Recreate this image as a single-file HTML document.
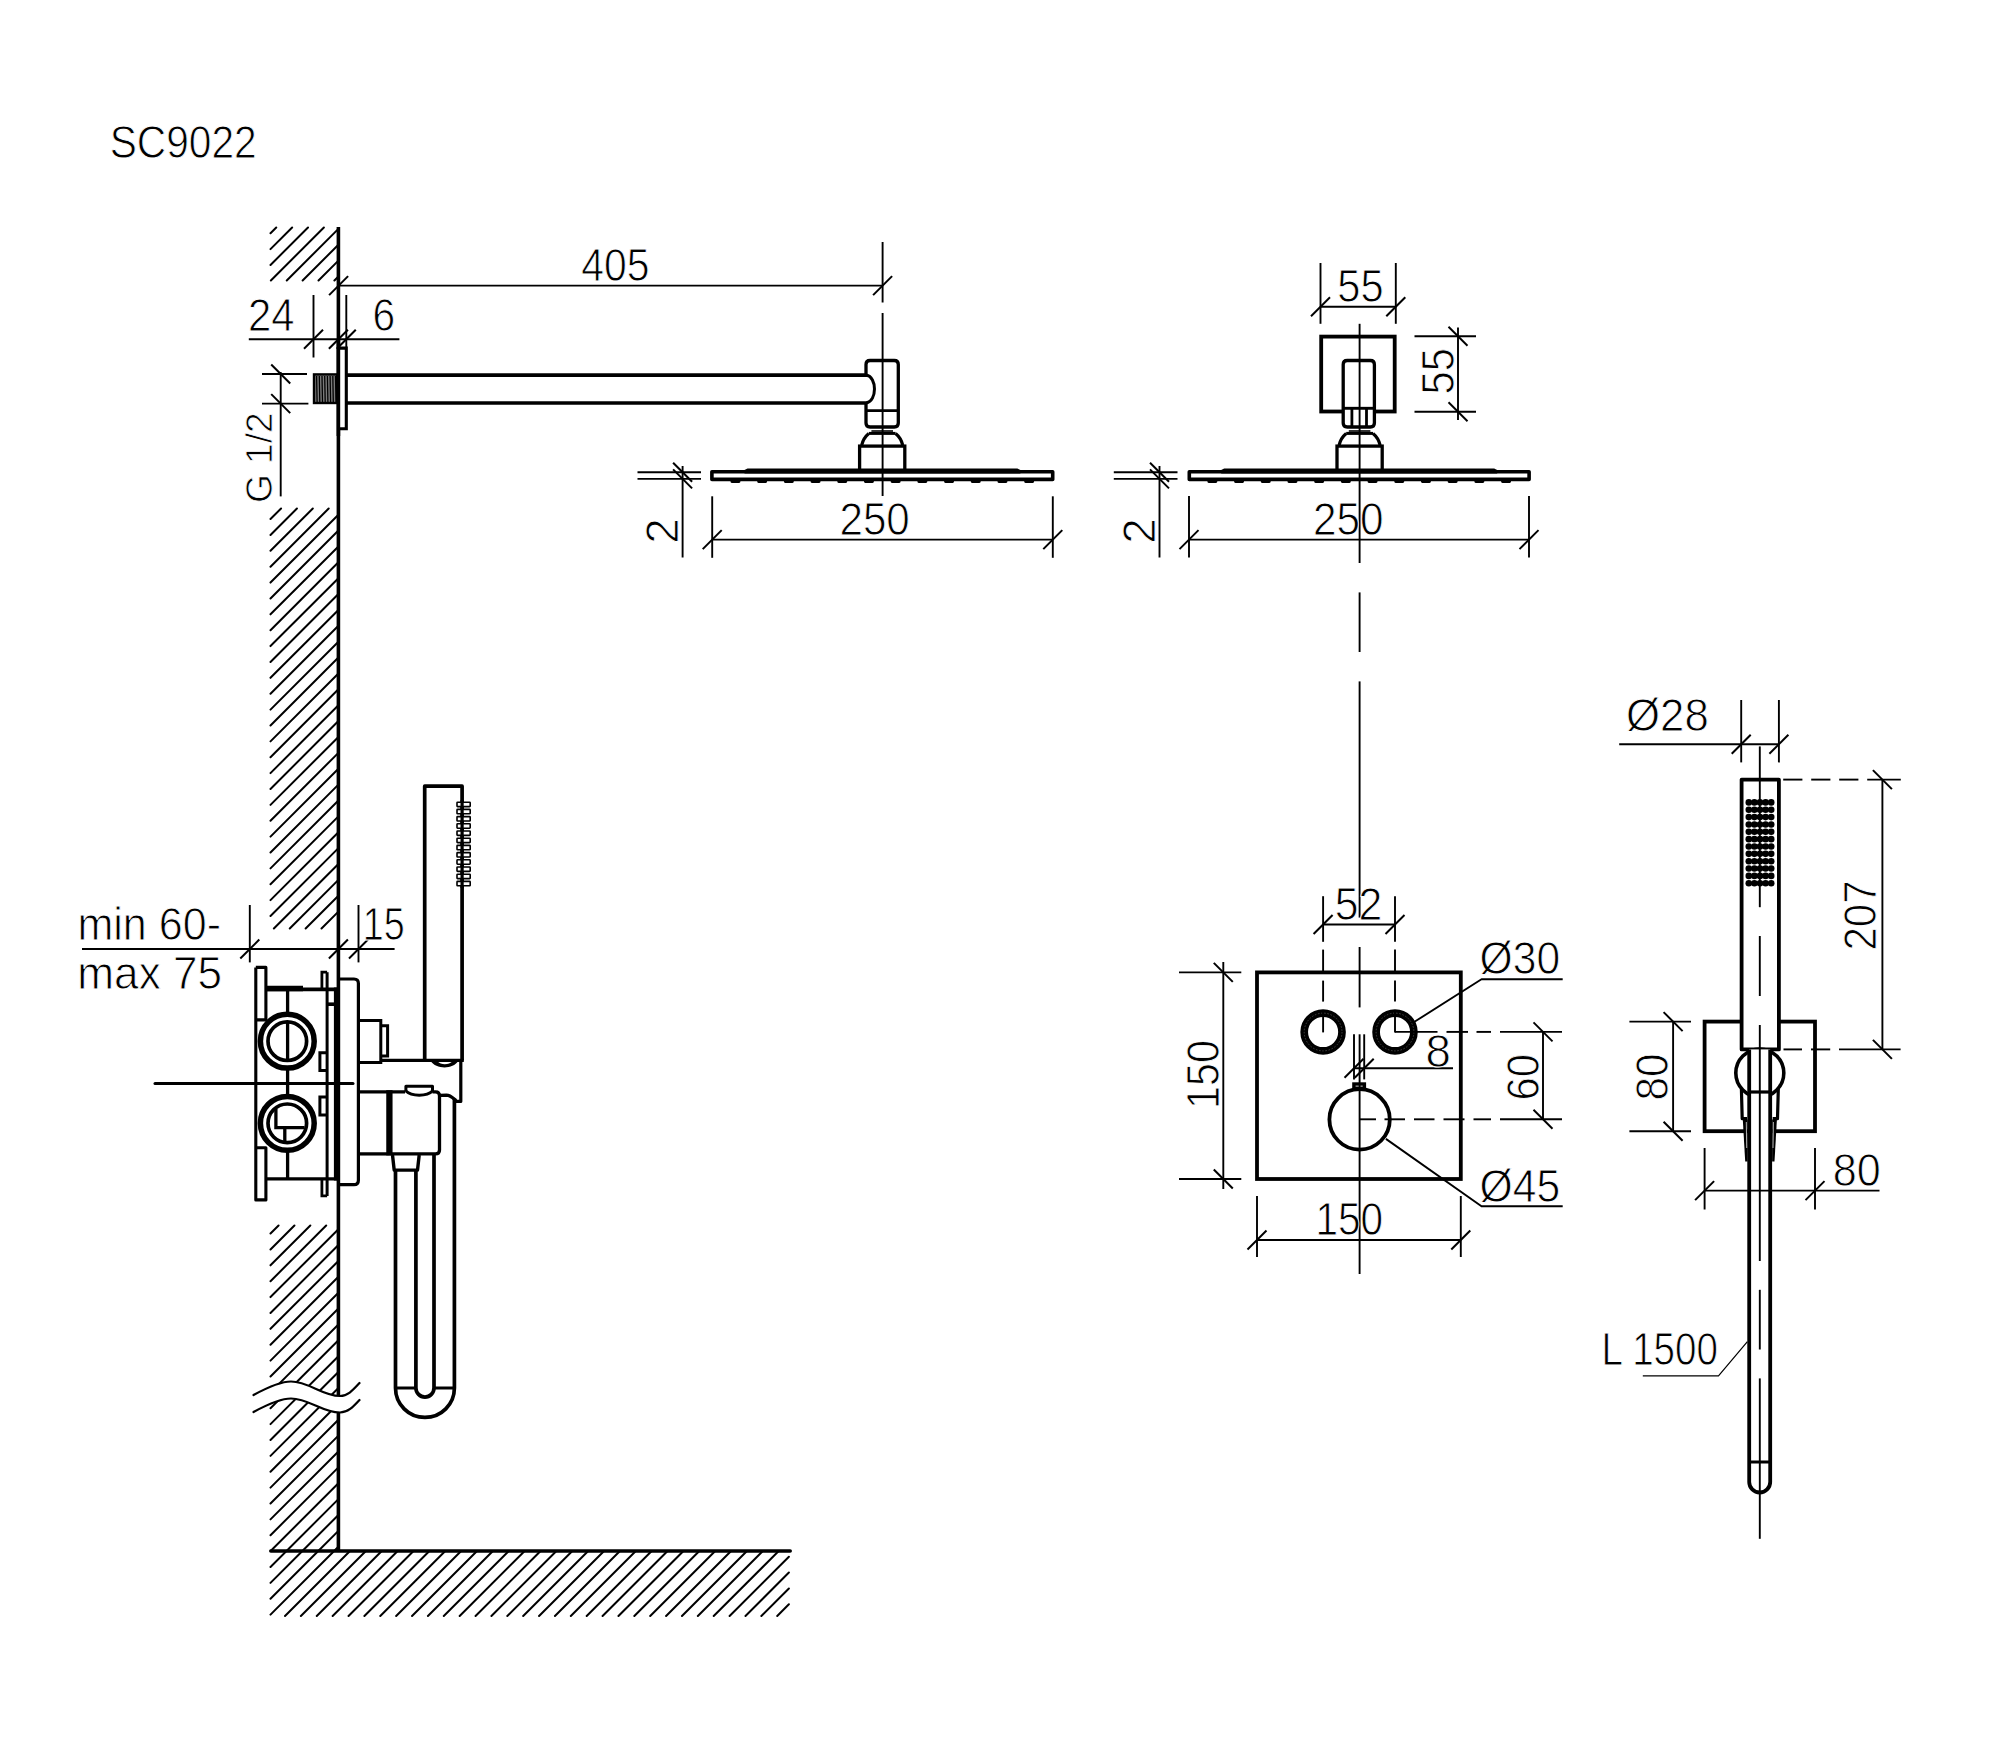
<!DOCTYPE html>
<html lang="en">
<head>
<meta charset="utf-8">
<title>SC9022 technical drawing</title>
<style>
html,body{margin:0;padding:0;background:#fff;}
body{width:2000px;height:1757px;overflow:hidden;}
svg{display:block;}
svg text{font-family:"Liberation Sans",sans-serif;fill:#000;stroke:#fff;stroke-width:0.9px;}
</style>
</head>
<body>
<svg width="2000" height="1757" viewBox="0 0 2000 1757" fill="none" stroke="#000">
<g id="hatching">
<path d="M270.5,233.25L276.25,227.5M270.5,249.13L292.13,227.5M270.5,265.01L308.01,227.5M270.88,280.5L323.88,227.5M286.76,280.5L337.9,229.36M302.64,280.5L337.9,245.24M318.52,280.5L337.9,261.12M334.4,280.5L337.9,277" stroke-width="2" stroke-linecap="round"/>
<path d="M270.5,519.05L281.05,508.5M270.5,534.93L296.93,508.5M270.5,550.81L312.81,508.5M270.5,566.69L328.69,508.5M270.5,582.57L337.9,515.17M270.5,598.44L337.9,531.04M270.5,614.32L337.9,546.92M270.5,630.2L337.9,562.8M270.5,646.08L337.9,578.68M270.5,661.96L337.9,594.56M270.5,677.83L337.9,610.43M270.5,693.71L337.9,626.31M270.5,709.59L337.9,642.19M270.5,725.47L337.9,658.07M270.5,741.35L337.9,673.95M270.5,757.22L337.9,689.82M270.5,773.1L337.9,705.7M270.5,788.98L337.9,721.58M270.5,804.86L337.9,737.46M270.5,820.74L337.9,753.34M270.5,836.61L337.9,769.21M270.5,852.49L337.9,785.09M270.5,868.37L337.9,800.97M270.5,884.25L337.9,816.85M270.5,900.13L337.9,832.73M270.5,916L337.9,848.6M273.88,928.5L337.9,864.48M289.76,928.5L337.9,880.36M305.64,928.5L337.9,896.24M321.52,928.5L337.9,912.12" stroke-width="2" stroke-linecap="round"/>
<path d="M270.5,1233.56L278.56,1225.5M270.5,1249.44L294.44,1225.5M270.5,1265.32L310.32,1225.5M270.5,1281.2L326.2,1225.5M270.5,1297.08L337.9,1229.68M270.5,1312.95L337.9,1245.55M270.5,1328.83L337.9,1261.43M270.5,1344.71L337.9,1277.31M270.5,1360.59L337.9,1293.19M270.5,1376.47L337.9,1309.07M270.5,1392.34L337.9,1324.94M270.5,1408.22L337.9,1340.82M270.5,1424.1L337.9,1356.7M270.5,1439.98L337.9,1372.58M270.5,1455.86L337.9,1388.46M270.5,1471.73L337.9,1404.33M270.5,1487.61L337.9,1420.21M270.5,1503.49L337.9,1436.09M270.5,1519.37L337.9,1451.97M270.5,1535.25L337.9,1467.85M271.12,1550.5L337.9,1483.72M287,1550.5L337.9,1499.6M302.88,1550.5L337.9,1515.48M318.76,1550.5L337.9,1531.36M334.64,1550.5L337.9,1547.24" stroke-width="2" stroke-linecap="round"/>
<path d="M270.5,1567L286,1551.5M270.5,1582.88L301.88,1551.5M270.5,1598.76L317.76,1551.5M270.5,1614.64L333.64,1551.5M285.01,1616L349.51,1551.5M300.89,1616L365.39,1551.5M316.77,1616L381.27,1551.5M332.65,1616L397.15,1551.5M348.53,1616L413.03,1551.5M364.4,1616L428.9,1551.5M380.28,1616L444.78,1551.5M396.16,1616L460.66,1551.5M412.04,1616L476.54,1551.5M427.92,1616L492.42,1551.5M443.79,1616L508.29,1551.5M459.67,1616L524.17,1551.5M475.55,1616L540.05,1551.5M491.43,1616L555.93,1551.5M507.31,1616L571.81,1551.5M523.18,1616L587.68,1551.5M539.06,1616L603.56,1551.5M554.94,1616L619.44,1551.5M570.82,1616L635.32,1551.5M586.7,1616L651.2,1551.5M602.57,1616L667.07,1551.5M618.45,1616L682.95,1551.5M634.33,1616L698.83,1551.5M650.21,1616L714.71,1551.5M666.09,1616L730.59,1551.5M681.96,1616L746.46,1551.5M697.84,1616L762.34,1551.5M713.72,1616L778.22,1551.5M729.6,1616L788.9,1556.7M745.48,1616L788.9,1572.58M761.35,1616L788.9,1588.45M777.23,1616L788.9,1604.33" stroke-width="2" stroke-linecap="round"/>
</g>
<g id="wall">
<line x1="338.4" y1="227" x2="338.4" y2="1551" stroke-width="3.6"/>
<line x1="270.8" y1="1551" x2="790.2" y2="1551" stroke-width="3.6" stroke-linecap="round"/>
<path d="M253.5,1395 C272,1385 282,1381.5 291,1381.5 C309,1381.5 322,1396 340,1396 C348,1396 353,1390 359.5,1383 L359.5,1400 C353,1407 348,1412.5 340,1412.5 C322,1412.5 309,1398.5 291,1398.5 C282,1398.5 272,1402 253.5,1412 Z" fill="#fff" stroke="none"/>
<path d="M253.5,1395 C272,1385 282,1381.5 291,1381.5 C309,1381.5 322,1396 340,1396 C348,1396 353,1390 359.5,1383" stroke-width="2.2" stroke-linecap="round"/>
<path d="M253.5,1412 C272,1402 282,1398.5 291,1398.5 C309,1398.5 322,1412.5 340,1412.5 C348,1412.5 353,1407 359.5,1400" stroke-width="2.2" stroke-linecap="round"/>
</g>
<g id="arm-side">
<rect x="314" y="374.4" width="23" height="28.6" fill="#7a7a7a" stroke="#000" stroke-width="2.4"/>
<path d="M316.6,376L317.1,402M319.3,376L319.8,402M322,376L322.5,402M324.7,376L325.2,402M327.4,376L327.9,402M330.1,376L330.6,402M332.8,376L333.3,402M335.5,376L336,402" stroke-width="1.3"/>
<path d="M338.4,348.1 L346.3,348.1 L346.3,428.7 L338.4,428.7" stroke-width="3.1" fill="#fff"/>
<line x1="347" y1="375.1" x2="867" y2="375.1" stroke-width="3.6"/>
<line x1="347" y1="403" x2="867" y2="403" stroke-width="3.6"/>
<line x1="338.4" y1="340" x2="338.4" y2="436" stroke-width="3.6"/>
<path d="M866,375.1 L866,364.5 Q866,360.5 870,360.5 L894.3,360.5 Q898.3,360.5 898.3,364.5 L898.3,423 Q898.3,427 894.3,427 L870,427 Q866,427 866,423 L866,403" stroke-width="3.3"/>
<path d="M866.3,375.1 C877.2,377 877.2,401.1 866.3,403" stroke-width="3"/>
<line x1="866" y1="410.6" x2="898.3" y2="410.6" stroke-width="2.9"/>
<line x1="871.4" y1="431" x2="893" y2="431" stroke-width="1.6"/>
<line x1="868.8" y1="433.4" x2="895.6" y2="433.4" stroke-width="3"/>
<path d="M868.8,433.4 A20.9,20.9 0 0 0 861.7,445.2" stroke-width="3.2"/>
<path d="M895.6,433.4 A20.9,20.9 0 0 1 902.7,445.2" stroke-width="3.2"/>
<rect x="859.6" y="446.1" width="45.2" height="25.3" stroke-width="3.3"/>
<rect x="711.9" y="471.75" width="340.8" height="7.65" stroke-width="3.6" fill="#fff" stroke-linejoin="round"/>
<path d="M744.5,473.4 L744.5,470 L747.5,468.5 L1017.4,468.5 L1020.4,470 L1020.4,473.4 Z" fill="#000" stroke="none"/>
<path d="M731.85,481.6L739.05,481.6M758.55,481.6L765.75,481.6M785.25,481.6L792.45,481.6M811.95,481.6L819.15,481.6M838.65,481.6L845.85,481.6M865.35,481.6L872.55,481.6M892.05,481.6L899.25,481.6M918.75,481.6L925.95,481.6M945.45,481.6L952.65,481.6M972.15,481.6L979.35,481.6M998.85,481.6L1006.05,481.6M1025.55,481.6L1032.75,481.6" stroke-width="2.8" stroke-linecap="round"/>
</g>
<line x1="882.6" y1="242" x2="882.6" y2="302.5" stroke-width="1.9"/>
<line x1="882.6" y1="313" x2="882.6" y2="496" stroke-width="1.9"/>
<g id="dims-side">
<line x1="339" y1="285.6" x2="882.6" y2="285.6" stroke-width="1.9"/>
<line x1="329.1" y1="295.1" x2="348.1" y2="276.1" stroke-width="2"/>
<line x1="873.1" y1="295.1" x2="892.1" y2="276.1" stroke-width="2"/>
<text transform="translate(581.16 280.9) scale(0.8933 1)" font-size="45.8">405</text>
<line x1="248.8" y1="339.2" x2="399.4" y2="339.2" stroke-width="1.9"/>
<line x1="313.5" y1="295" x2="313.5" y2="357.5" stroke-width="1.9"/>
<line x1="346.3" y1="295" x2="346.3" y2="347" stroke-width="1.9"/>
<line x1="304" y1="348.7" x2="323" y2="329.7" stroke-width="2"/>
<line x1="328.9" y1="348.7" x2="347.9" y2="329.7" stroke-width="2"/>
<line x1="336.8" y1="348.7" x2="355.8" y2="329.7" stroke-width="2"/>
<text transform="translate(248.08 331.1) scale(0.9138 1)" font-size="45.8">24</text>
<text transform="translate(372.53 330.7) scale(0.8896 1)" font-size="45.8">6</text>
<line x1="262" y1="374" x2="307" y2="374" stroke-width="1.9"/>
<line x1="262" y1="403.6" x2="308.4" y2="403.6" stroke-width="1.9"/>
<line x1="280.7" y1="372" x2="280.7" y2="496.4" stroke-width="1.9"/>
<line x1="271.2" y1="364.5" x2="290.2" y2="383.5" stroke-width="2"/>
<line x1="271.2" y1="394.1" x2="290.2" y2="413.1" stroke-width="2"/>
<text transform="translate(272.4 503.07) rotate(-90) scale(1.0125 1)" font-size="36.6" style="stroke-width:0.8px">G 1/2</text>
<line x1="637.5" y1="472.2" x2="701" y2="472.2" stroke-width="1.9"/>
<line x1="637.5" y1="478.9" x2="701" y2="478.9" stroke-width="1.9"/>
<line x1="682.6" y1="466" x2="682.6" y2="557.5" stroke-width="1.9"/>
<line x1="673.1" y1="462.7" x2="692.1" y2="481.7" stroke-width="2"/>
<line x1="673.1" y1="469.4" x2="692.1" y2="488.4" stroke-width="2"/>
<text transform="translate(678 543.76) rotate(-90) scale(1.0018 1)" font-size="45.8">2</text>
<line x1="712.2" y1="496.3" x2="712.2" y2="557.8" stroke-width="1.9"/>
<line x1="1052.8" y1="496.3" x2="1052.8" y2="557.8" stroke-width="1.9"/>
<line x1="712.2" y1="539.6" x2="1052.8" y2="539.6" stroke-width="1.9"/>
<line x1="702.7" y1="549.1" x2="721.7" y2="530.1" stroke-width="2"/>
<line x1="1043.3" y1="549.1" x2="1062.3" y2="530.1" stroke-width="2"/>
<text transform="translate(839.46 535.1) scale(0.9213 1)" font-size="45.8">250</text>
</g>
<g id="head-front">
<rect x="1321.2" y="336.6" width="73.5" height="74.9" stroke-width="3.8"/>
<path d="M1343.2,364.5 Q1343.2,360.5 1347.2,360.5 L1370.4,360.5 Q1374.4,360.5 1374.4,364.5 L1374.4,423 Q1374.4,427 1370.4,427 L1347.2,427 Q1343.2,427 1343.2,423 Z" stroke-width="3.3" fill="#fff"/>
<line x1="1343.2" y1="408.3" x2="1374.4" y2="408.3" stroke-width="2.9"/>
<line x1="1351.9" y1="408.3" x2="1351.9" y2="426.5" stroke-width="2.8"/>
<line x1="1366.5" y1="408.3" x2="1366.5" y2="426.5" stroke-width="2.8"/>
<line x1="1348.8" y1="431" x2="1370.4" y2="431" stroke-width="1.6"/>
<line x1="1346.2" y1="433.4" x2="1373" y2="433.4" stroke-width="3"/>
<path d="M1346.2,433.4 A20.9,20.9 0 0 0 1339.1,445.2" stroke-width="3.2"/>
<path d="M1373,433.4 A20.9,20.9 0 0 1 1380.1,445.2" stroke-width="3.2"/>
<rect x="1337" y="446.1" width="45.2" height="25.3" stroke-width="3.3"/>
<rect x="1189.3" y="471.75" width="339.8" height="7.65" stroke-width="3.6" fill="#fff" stroke-linejoin="round"/>
<path d="M1221.2,473.4 L1221.2,470 L1224.2,468.5 L1494.2,468.5 L1497.2,470 L1497.2,473.4 Z" fill="#000" stroke="none"/>
<path d="M1208.75,481.6L1215.95,481.6M1235.45,481.6L1242.65,481.6M1262.15,481.6L1269.35,481.6M1288.85,481.6L1296.05,481.6M1315.55,481.6L1322.75,481.6M1342.25,481.6L1349.45,481.6M1368.95,481.6L1376.15,481.6M1395.65,481.6L1402.85,481.6M1422.35,481.6L1429.55,481.6M1449.05,481.6L1456.25,481.6M1475.75,481.6L1482.95,481.6M1502.45,481.6L1509.65,481.6" stroke-width="2.8" stroke-linecap="round"/>
</g>
<line x1="1359.6" y1="323.8" x2="1359.6" y2="563" stroke-width="1.9"/>
<line x1="1359.6" y1="592.4" x2="1359.6" y2="652" stroke-width="1.9"/>
<line x1="1359.6" y1="681.4" x2="1359.6" y2="917.6" stroke-width="1.9"/>
<line x1="1359.6" y1="947" x2="1359.6" y2="1007.4" stroke-width="1.9"/>
<line x1="1359.6" y1="1034.3" x2="1359.6" y2="1274" stroke-width="1.9"/>
<g id="dims-front">
<line x1="1320.5" y1="263" x2="1320.5" y2="323.8" stroke-width="1.9"/>
<line x1="1395.8" y1="263" x2="1395.8" y2="323.8" stroke-width="1.9"/>
<line x1="1320.5" y1="306.8" x2="1395.8" y2="306.8" stroke-width="1.9"/>
<line x1="1311" y1="316.3" x2="1330" y2="297.3" stroke-width="2"/>
<line x1="1386.3" y1="316.3" x2="1405.3" y2="297.3" stroke-width="2"/>
<text transform="translate(1337.22 301.7) scale(0.9096 1)" font-size="45.8">55</text>
<line x1="1414.5" y1="336.3" x2="1476" y2="336.3" stroke-width="1.9"/>
<line x1="1414.5" y1="411.8" x2="1476" y2="411.8" stroke-width="1.9"/>
<line x1="1458" y1="327.5" x2="1458" y2="420" stroke-width="1.9"/>
<line x1="1448.5" y1="326.8" x2="1467.5" y2="345.8" stroke-width="2"/>
<line x1="1448.5" y1="402.3" x2="1467.5" y2="421.3" stroke-width="2"/>
<text transform="translate(1453.7 394.48) rotate(-90) scale(0.9117 1)" font-size="45.8">55</text>
<line x1="1113.8" y1="472.2" x2="1177.5" y2="472.2" stroke-width="1.9"/>
<line x1="1113.8" y1="478.9" x2="1177.5" y2="478.9" stroke-width="1.9"/>
<line x1="1159.5" y1="466" x2="1159.5" y2="557.5" stroke-width="1.9"/>
<line x1="1150" y1="462.7" x2="1169" y2="481.7" stroke-width="2"/>
<line x1="1150" y1="469.4" x2="1169" y2="488.4" stroke-width="2"/>
<text transform="translate(1154.9 543.76) rotate(-90) scale(1.0018 1)" font-size="45.8">2</text>
<line x1="1189" y1="496" x2="1189" y2="557.5" stroke-width="1.9"/>
<line x1="1529" y1="496" x2="1529" y2="557.5" stroke-width="1.9"/>
<line x1="1189" y1="539.6" x2="1529" y2="539.6" stroke-width="1.9"/>
<line x1="1179.5" y1="549.1" x2="1198.5" y2="530.1" stroke-width="2"/>
<line x1="1519.5" y1="549.1" x2="1538.5" y2="530.1" stroke-width="2"/>
<text transform="translate(1313.06 535.1) scale(0.9241 1)" font-size="45.8">250</text>
</g>
<g id="mixer-side">
<line x1="155" y1="1083.5" x2="353" y2="1083.5" stroke-width="3" stroke-linecap="round"/>
<path d="M255.8,967.4 L255.8,1199.9 L265.9,1199.9 L265.9,1147.7 L255.8,1147.7 M255.8,967.4 L265.9,967.4 L265.9,1019.9 L255.8,1019.9" stroke-width="3.1" stroke-linejoin="round"/>
<line x1="265.9" y1="989.4" x2="337" y2="989.4" stroke-width="3.7"/>
<line x1="265.9" y1="988.5" x2="303" y2="988.5" stroke-width="5.6"/>
<line x1="265.9" y1="1178.8" x2="337" y2="1178.8" stroke-width="3.3"/>
<line x1="327.1" y1="972.2" x2="327.1" y2="1196" stroke-width="3"/>
<path d="M321.9,989 L321.9,972.2 L327.1,972.2" stroke-width="2.8"/>
<path d="M321.9,1178.8 L321.9,1195.9 L327.1,1195.9" stroke-width="2.8"/>
<line x1="327" y1="1004.2" x2="336" y2="1004.2" stroke-width="3.6"/>
<line x1="335.6" y1="987.6" x2="335.6" y2="1180.4" stroke-width="3.4"/>
<line x1="287.6" y1="989" x2="287.6" y2="1178.8" stroke-width="3.3"/>
<circle cx="287.3" cy="1041.2" r="26.9" stroke-width="5.5" fill="#fff"/>
<circle cx="287.3" cy="1041.2" r="19.3" stroke-width="3.7" fill="#fff"/>
<circle cx="287.3" cy="1123.3" r="26.9" stroke-width="5.5" fill="#fff"/>
<circle cx="287.3" cy="1123.3" r="19.3" stroke-width="3.7" fill="#fff"/>
<line x1="287.6" y1="1022" x2="287.6" y2="1060.4" stroke-width="3.3"/>
<path d="M275.9,1108.9 L275.9,1127.7 L304.6,1127.7 M284.8,1127.7 L284.8,1141.4" stroke-width="3.3"/>
<path d="M327.1,1052.7 L319.9,1052.7 L319.9,1070.4 L327.1,1070.4" stroke-width="3"/>
<path d="M327.1,1097 L319.9,1097 L319.9,1115.1 L327.1,1115.1" stroke-width="3"/>
<path d="M340,979 L354,979 Q358.4,979 358.4,983.4 L358.4,1180.3 Q358.4,1184.7 354,1184.7 L340,1184.7" stroke-width="3.2"/>
<path d="M358.5,1020.4 L380.8,1020.4 L380.8,1062.6 L358.5,1062.6" stroke-width="3"/>
<path d="M380.8,1025.8 L387.6,1025.8 L387.6,1055.9 L380.8,1055.9" stroke-width="3"/>
<line x1="381" y1="1060.3" x2="463.8" y2="1060.3" stroke-width="3.3"/>
<path d="M424.7,1060.4 L424.7,786.2 L462.1,786.2 L462.1,1060.4" stroke-width="3.7" stroke-linejoin="round"/>
<rect x="457" y="802.2" width="13.2" height="4.4" rx="0.6" stroke-width="1.6" fill="#fff"/>
<rect x="457" y="809.4" width="13.2" height="4.4" rx="0.6" stroke-width="1.6" fill="#fff"/>
<rect x="457" y="816.6" width="13.2" height="4.4" rx="0.6" stroke-width="1.6" fill="#fff"/>
<rect x="457" y="823.8" width="13.2" height="4.4" rx="0.6" stroke-width="1.6" fill="#fff"/>
<rect x="457" y="831" width="13.2" height="4.4" rx="0.6" stroke-width="1.6" fill="#fff"/>
<rect x="457" y="838.2" width="13.2" height="4.4" rx="0.6" stroke-width="1.6" fill="#fff"/>
<rect x="457" y="845.4" width="13.2" height="4.4" rx="0.6" stroke-width="1.6" fill="#fff"/>
<rect x="457" y="852.6" width="13.2" height="4.4" rx="0.6" stroke-width="1.6" fill="#fff"/>
<rect x="457" y="859.8" width="13.2" height="4.4" rx="0.6" stroke-width="1.6" fill="#fff"/>
<rect x="457" y="867" width="13.2" height="4.4" rx="0.6" stroke-width="1.6" fill="#fff"/>
<rect x="457" y="874.2" width="13.2" height="4.4" rx="0.6" stroke-width="1.6" fill="#fff"/>
<rect x="457" y="881.4" width="13.2" height="4.4" rx="0.6" stroke-width="1.6" fill="#fff"/>
<line x1="462.1" y1="800" x2="462.1" y2="888" stroke-width="3.2"/>
<path d="M460.8,1060.4 L460.8,1101.4 L455.8,1101.4 L455.6,1100.2 C452.5,1097.6 450.5,1095.2 446.5,1095.1 L440,1095.4" stroke-width="3.2" stroke-linejoin="round"/>
<path d="M430.7,1061 C436,1069.5 453,1069.5 458.2,1061 L452.5,1061.6 C449,1065 440.5,1065 437.6,1061.6 Z" fill="#000" stroke="none"/>
<line x1="358.5" y1="1091.8" x2="405" y2="1091.8" stroke-width="3.3"/>
<path d="M405.9,1091.8 L405.9,1086.2 L432.5,1086.2 L432.5,1091.8" stroke-width="3" stroke-linejoin="round"/>
<path d="M405.9,1091 C411.5,1096.5 427,1096.5 432.5,1091" stroke-width="3"/>
<line x1="358.5" y1="1153.9" x2="389" y2="1153.9" stroke-width="3.3"/>
<line x1="389.4" y1="1090.2" x2="389.4" y2="1155.4" stroke-width="6.3"/>
<path d="M432.5,1091.8 L435.5,1091.8 Q439.5,1091.8 439.5,1095.8 L439.5,1149.9 Q439.5,1153.9 435.5,1153.9 L389,1153.9" stroke-width="3.3"/>
<path d="M392.5,1155 L394.2,1170.1 L417.5,1170.1 L419.2,1155" stroke-width="3.4" stroke-linejoin="round"/>
<path d="M395.5,1170 L395.5,1388 A29.45,29.45 0 0 0 454.4,1388 L454.4,1098.5" stroke-width="3.7"/>
<path d="M415.9,1170 L415.9,1388 A9.05,9.05 0 0 0 434,1388 L434,1154" stroke-width="3.7"/>
<line x1="395.5" y1="1388" x2="415.9" y2="1388" stroke-width="3"/>
<line x1="434" y1="1388" x2="454.4" y2="1388" stroke-width="3"/>
</g>
<g id="dims-mixer">
<line x1="82" y1="949" x2="394.6" y2="949" stroke-width="1.9"/>
<line x1="249.8" y1="905" x2="249.8" y2="962.4" stroke-width="1.9"/>
<line x1="358.5" y1="905" x2="358.5" y2="962.4" stroke-width="1.9"/>
<line x1="240.3" y1="958.5" x2="259.3" y2="939.5" stroke-width="2"/>
<line x1="328.9" y1="958.5" x2="347.9" y2="939.5" stroke-width="2"/>
<line x1="349" y1="958.5" x2="368" y2="939.5" stroke-width="2"/>
<text transform="translate(77.42 939.9) scale(0.9404 1)" font-size="45.8">min 60-</text>
<text transform="translate(77.34 989.3) scale(0.9638 1)" font-size="45.8">max 75</text>
<text transform="translate(362.65 939.7) scale(0.8245 1)" font-size="45.8">15</text>
</g>
<g id="plate-front">
<rect x="1257" y="972.4" width="203.8" height="206.6" stroke-width="3.8"/>
<circle cx="1323.1" cy="1032" r="18.9" stroke-width="7.7"/>
<circle cx="1323.1" cy="1032" r="18.9" stroke-width="0.6" stroke="#6a6a6a" stroke-dasharray="1.6 1.6"/>
<circle cx="1395" cy="1032" r="18.9" stroke-width="7.7"/>
<circle cx="1395" cy="1032" r="18.9" stroke-width="0.6" stroke="#6a6a6a" stroke-dasharray="1.6 1.6"/>
<circle cx="1359.6" cy="1119.4" r="30.2" stroke-width="3.8"/>
<rect x="1353.9" y="1084" width="10.5" height="4.2" stroke-width="3.4"/>
</g>
<g id="dims-plate">
<line x1="1323.1" y1="896.2" x2="1323.1" y2="941.8" stroke-width="1.9"/>
<line x1="1323.1" y1="949.6" x2="1323.1" y2="972" stroke-width="1.9"/>
<line x1="1323.1" y1="980.6" x2="1323.1" y2="1001.6" stroke-width="1.9"/>
<line x1="1323.1" y1="1012" x2="1323.1" y2="1032.4" stroke-width="1.9"/>
<line x1="1395" y1="896.2" x2="1395" y2="941.8" stroke-width="1.9"/>
<line x1="1395" y1="949.6" x2="1395" y2="972" stroke-width="1.9"/>
<line x1="1395" y1="980.6" x2="1395" y2="1001.6" stroke-width="1.9"/>
<line x1="1395" y1="1012" x2="1395" y2="1032.4" stroke-width="1.9"/>
<line x1="1323.1" y1="924.5" x2="1395" y2="924.5" stroke-width="1.9"/>
<line x1="1313.6" y1="934" x2="1332.6" y2="915" stroke-width="2"/>
<line x1="1385.5" y1="934" x2="1404.5" y2="915" stroke-width="2"/>
<text transform="translate(1334.77 920.1) scale(0.9323 1)" font-size="45.8">52</text>
<line x1="1179" y1="972.4" x2="1241.3" y2="972.4" stroke-width="1.9"/>
<line x1="1179" y1="1179" x2="1241.3" y2="1179" stroke-width="1.9"/>
<line x1="1223.3" y1="962" x2="1223.3" y2="1189" stroke-width="1.9"/>
<line x1="1213.8" y1="962.9" x2="1232.8" y2="981.9" stroke-width="2"/>
<line x1="1213.8" y1="1169.5" x2="1232.8" y2="1188.5" stroke-width="2"/>
<text transform="translate(1218.5 1108.96) rotate(-90) scale(0.9027 1)" font-size="45.8">150</text>
<line x1="1257" y1="1196" x2="1257" y2="1257" stroke-width="1.9"/>
<line x1="1460.8" y1="1196" x2="1460.8" y2="1257" stroke-width="1.9"/>
<line x1="1257" y1="1240" x2="1460.8" y2="1240" stroke-width="1.9"/>
<line x1="1247.5" y1="1249.5" x2="1266.5" y2="1230.5" stroke-width="2"/>
<line x1="1451.3" y1="1249.5" x2="1470.3" y2="1230.5" stroke-width="2"/>
<text transform="translate(1315.41 1235.3) scale(0.8856 1)" font-size="45.8">150</text>
<path d="M1562.7,979.2 L1481.5,979.2 L1414.5,1021.8" stroke-width="1.9" stroke-linejoin="round"/>
<text transform="translate(1479.61 973.5) scale(0.9296 1)" font-size="45.8">Ø30</text>
<path d="M1562.7,1206.3 L1481.5,1206.3 L1385.9,1138.9" stroke-width="1.9" stroke-linejoin="round"/>
<text transform="translate(1479.6 1201.5) scale(0.9311 1)" font-size="45.8">Ø45</text>
<line x1="1395" y1="1031.9" x2="1437.5" y2="1031.9" stroke-width="1.9"/>
<line x1="1446.5" y1="1031.9" x2="1468" y2="1031.9" stroke-width="1.9"/>
<line x1="1476.5" y1="1031.9" x2="1491" y2="1031.9" stroke-width="1.9"/>
<line x1="1500" y1="1031.9" x2="1562" y2="1031.9" stroke-width="1.9"/>
<line x1="1359.6" y1="1119.3" x2="1376" y2="1119.3" stroke-width="1.9"/>
<line x1="1384.5" y1="1119.3" x2="1405" y2="1119.3" stroke-width="1.9"/>
<line x1="1414" y1="1119.3" x2="1434.5" y2="1119.3" stroke-width="1.9"/>
<line x1="1443.5" y1="1119.3" x2="1464.5" y2="1119.3" stroke-width="1.9"/>
<line x1="1473.5" y1="1119.3" x2="1491" y2="1119.3" stroke-width="1.9"/>
<line x1="1500" y1="1119.3" x2="1562" y2="1119.3" stroke-width="1.9"/>
<line x1="1543" y1="1031.9" x2="1543" y2="1119.3" stroke-width="1.9"/>
<line x1="1533.5" y1="1022.4" x2="1552.5" y2="1041.4" stroke-width="2"/>
<line x1="1533.5" y1="1109.8" x2="1552.5" y2="1128.8" stroke-width="2"/>
<text transform="translate(1538.5 1100.54) rotate(-90) scale(0.9145 1)" font-size="45.8">60</text>
<line x1="1354" y1="1034.3" x2="1354" y2="1079.4" stroke-width="1.9"/>
<line x1="1364.2" y1="1034.3" x2="1364.2" y2="1079.4" stroke-width="1.9"/>
<line x1="1353.5" y1="1068.3" x2="1453" y2="1068.3" stroke-width="1.9"/>
<line x1="1344.5" y1="1077.8" x2="1363.5" y2="1058.8" stroke-width="2"/>
<line x1="1354.7" y1="1077.8" x2="1373.7" y2="1058.8" stroke-width="2"/>
<text transform="translate(1425.57 1066.9) scale(0.9956 1)" font-size="45.8">8</text>
</g>
<g id="hand-front">
<rect x="1704.6" y="1021.6" width="110.4" height="109.6" stroke-width="3.8"/>
<path d="M1741.6,1049.4 L1741.6,779.6 L1778.9,779.6 L1778.9,1049.4 Z" stroke-width="3.8" fill="#fff" stroke-linejoin="round"/>
<circle cx="1748.8" cy="802.4" r="3.3" fill="#000" stroke="none"/>
<circle cx="1754.4" cy="802.4" r="3.3" fill="#000" stroke="none"/>
<circle cx="1760" cy="802.4" r="3.3" fill="#000" stroke="none"/>
<circle cx="1765.6" cy="802.4" r="3.3" fill="#000" stroke="none"/>
<circle cx="1771.2" cy="802.4" r="3.3" fill="#000" stroke="none"/>
<circle cx="1748.8" cy="809.75" r="3.3" fill="#000" stroke="none"/>
<circle cx="1754.4" cy="809.75" r="3.3" fill="#000" stroke="none"/>
<circle cx="1760" cy="809.75" r="3.3" fill="#000" stroke="none"/>
<circle cx="1765.6" cy="809.75" r="3.3" fill="#000" stroke="none"/>
<circle cx="1771.2" cy="809.75" r="3.3" fill="#000" stroke="none"/>
<circle cx="1748.8" cy="817.1" r="3.3" fill="#000" stroke="none"/>
<circle cx="1754.4" cy="817.1" r="3.3" fill="#000" stroke="none"/>
<circle cx="1760" cy="817.1" r="3.3" fill="#000" stroke="none"/>
<circle cx="1765.6" cy="817.1" r="3.3" fill="#000" stroke="none"/>
<circle cx="1771.2" cy="817.1" r="3.3" fill="#000" stroke="none"/>
<circle cx="1748.8" cy="824.45" r="3.3" fill="#000" stroke="none"/>
<circle cx="1754.4" cy="824.45" r="3.3" fill="#000" stroke="none"/>
<circle cx="1760" cy="824.45" r="3.3" fill="#000" stroke="none"/>
<circle cx="1765.6" cy="824.45" r="3.3" fill="#000" stroke="none"/>
<circle cx="1771.2" cy="824.45" r="3.3" fill="#000" stroke="none"/>
<circle cx="1748.8" cy="831.8" r="3.3" fill="#000" stroke="none"/>
<circle cx="1754.4" cy="831.8" r="3.3" fill="#000" stroke="none"/>
<circle cx="1760" cy="831.8" r="3.3" fill="#000" stroke="none"/>
<circle cx="1765.6" cy="831.8" r="3.3" fill="#000" stroke="none"/>
<circle cx="1771.2" cy="831.8" r="3.3" fill="#000" stroke="none"/>
<circle cx="1748.8" cy="839.15" r="3.3" fill="#000" stroke="none"/>
<circle cx="1754.4" cy="839.15" r="3.3" fill="#000" stroke="none"/>
<circle cx="1760" cy="839.15" r="3.3" fill="#000" stroke="none"/>
<circle cx="1765.6" cy="839.15" r="3.3" fill="#000" stroke="none"/>
<circle cx="1771.2" cy="839.15" r="3.3" fill="#000" stroke="none"/>
<circle cx="1748.8" cy="846.5" r="3.3" fill="#000" stroke="none"/>
<circle cx="1754.4" cy="846.5" r="3.3" fill="#000" stroke="none"/>
<circle cx="1760" cy="846.5" r="3.3" fill="#000" stroke="none"/>
<circle cx="1765.6" cy="846.5" r="3.3" fill="#000" stroke="none"/>
<circle cx="1771.2" cy="846.5" r="3.3" fill="#000" stroke="none"/>
<circle cx="1748.8" cy="853.85" r="3.3" fill="#000" stroke="none"/>
<circle cx="1754.4" cy="853.85" r="3.3" fill="#000" stroke="none"/>
<circle cx="1760" cy="853.85" r="3.3" fill="#000" stroke="none"/>
<circle cx="1765.6" cy="853.85" r="3.3" fill="#000" stroke="none"/>
<circle cx="1771.2" cy="853.85" r="3.3" fill="#000" stroke="none"/>
<circle cx="1748.8" cy="861.2" r="3.3" fill="#000" stroke="none"/>
<circle cx="1754.4" cy="861.2" r="3.3" fill="#000" stroke="none"/>
<circle cx="1760" cy="861.2" r="3.3" fill="#000" stroke="none"/>
<circle cx="1765.6" cy="861.2" r="3.3" fill="#000" stroke="none"/>
<circle cx="1771.2" cy="861.2" r="3.3" fill="#000" stroke="none"/>
<circle cx="1748.8" cy="868.55" r="3.3" fill="#000" stroke="none"/>
<circle cx="1754.4" cy="868.55" r="3.3" fill="#000" stroke="none"/>
<circle cx="1760" cy="868.55" r="3.3" fill="#000" stroke="none"/>
<circle cx="1765.6" cy="868.55" r="3.3" fill="#000" stroke="none"/>
<circle cx="1771.2" cy="868.55" r="3.3" fill="#000" stroke="none"/>
<circle cx="1748.8" cy="875.9" r="3.3" fill="#000" stroke="none"/>
<circle cx="1754.4" cy="875.9" r="3.3" fill="#000" stroke="none"/>
<circle cx="1760" cy="875.9" r="3.3" fill="#000" stroke="none"/>
<circle cx="1765.6" cy="875.9" r="3.3" fill="#000" stroke="none"/>
<circle cx="1771.2" cy="875.9" r="3.3" fill="#000" stroke="none"/>
<circle cx="1748.8" cy="883.25" r="3.3" fill="#000" stroke="none"/>
<circle cx="1754.4" cy="883.25" r="3.3" fill="#000" stroke="none"/>
<circle cx="1760" cy="883.25" r="3.3" fill="#000" stroke="none"/>
<circle cx="1765.6" cy="883.25" r="3.3" fill="#000" stroke="none"/>
<circle cx="1771.2" cy="883.25" r="3.3" fill="#000" stroke="none"/>
<circle cx="1759.8" cy="1073" r="24" stroke-width="3.6" fill="#fff"/>
<rect x="1749.2" y="1049.4" width="21" height="433" fill="#fff" stroke="none"/>
<line x1="1749.2" y1="1049.4" x2="1749.2" y2="1482" stroke-width="3.8"/>
<line x1="1770.2" y1="1049.4" x2="1770.2" y2="1482" stroke-width="3.8"/>
<path d="M1749.2,1482 A10.5,10.5 0 0 0 1770.2,1482" stroke-width="3.8" fill="#fff"/>
<line x1="1749.2" y1="1092" x2="1770.2" y2="1092" stroke-width="3.2"/>
<line x1="1749.2" y1="1462" x2="1770.2" y2="1462" stroke-width="3"/>
<path d="M1741.4,1089 L1742.2,1118.6 L1747,1118.6" stroke-width="3.2" stroke-linejoin="round"/>
<path d="M1778.3,1089 L1777.5,1118.6 L1772.7,1118.6" stroke-width="3.2" stroke-linejoin="round"/>
<path d="M1742.8,1119.5 L1747.6,1119.5 L1747.6,1161.6 L1745.2,1161.6 Z" fill="#000" stroke="none"/>
<path d="M1776.9,1119.5 L1772.1,1119.5 L1772.1,1161.6 L1774.5,1161.6 Z" fill="#000" stroke="none"/>
<line x1="1746.3" y1="1122" x2="1746.7" y2="1148" stroke-width="0.7" stroke="#fff"/>
<line x1="1773.4" y1="1122" x2="1773" y2="1148" stroke-width="0.7" stroke="#fff"/>
</g>
<line x1="1759.8" y1="746.4" x2="1759.8" y2="907.2" stroke-width="1.9"/>
<line x1="1759.8" y1="936" x2="1759.8" y2="996" stroke-width="1.9"/>
<line x1="1759.8" y1="1025" x2="1759.8" y2="1261" stroke-width="1.9"/>
<line x1="1759.8" y1="1289.8" x2="1759.8" y2="1349.5" stroke-width="1.9"/>
<line x1="1759.8" y1="1378.4" x2="1759.8" y2="1538.8" stroke-width="1.9"/>
<g id="dims-hand">
<line x1="1619.2" y1="744.3" x2="1779.2" y2="744.3" stroke-width="1.9"/>
<line x1="1741.2" y1="700" x2="1741.2" y2="762.4" stroke-width="1.9"/>
<line x1="1778.9" y1="700" x2="1778.9" y2="762.4" stroke-width="1.9"/>
<line x1="1731.7" y1="753.8" x2="1750.7" y2="734.8" stroke-width="2"/>
<line x1="1769.4" y1="753.8" x2="1788.4" y2="734.8" stroke-width="2"/>
<text transform="translate(1626.05 730.9) scale(0.9550 1)" font-size="45.8">Ø28</text>
<line x1="1783.2" y1="779.6" x2="1802.4" y2="779.6" stroke-width="1.9"/>
<line x1="1811.2" y1="779.6" x2="1830.4" y2="779.6" stroke-width="1.9"/>
<line x1="1839.2" y1="779.6" x2="1858.4" y2="779.6" stroke-width="1.9"/>
<line x1="1867.2" y1="779.6" x2="1900.8" y2="779.6" stroke-width="1.9"/>
<line x1="1783.5" y1="1049.4" x2="1802" y2="1049.4" stroke-width="1.9"/>
<line x1="1811" y1="1049.4" x2="1830.2" y2="1049.4" stroke-width="1.9"/>
<line x1="1839" y1="1049.4" x2="1900.6" y2="1049.4" stroke-width="1.9"/>
<line x1="1882.4" y1="779.6" x2="1882.4" y2="1049.4" stroke-width="1.9"/>
<line x1="1872.9" y1="770.1" x2="1891.9" y2="789.1" stroke-width="2"/>
<line x1="1872.9" y1="1039.9" x2="1891.9" y2="1058.9" stroke-width="2"/>
<text transform="translate(1876.1 950.53) rotate(-90) scale(0.9181 1)" font-size="45.8">207</text>
<line x1="1629.4" y1="1021.6" x2="1691" y2="1021.6" stroke-width="1.9"/>
<line x1="1629.4" y1="1131.2" x2="1691" y2="1131.2" stroke-width="1.9"/>
<line x1="1673.1" y1="1021.6" x2="1673.1" y2="1131.2" stroke-width="1.9"/>
<line x1="1663.6" y1="1012.1" x2="1682.6" y2="1031.1" stroke-width="2"/>
<line x1="1663.6" y1="1121.7" x2="1682.6" y2="1140.7" stroke-width="2"/>
<text transform="translate(1668.3 1100.55) rotate(-90) scale(0.9208 1)" font-size="45.8">80</text>
<line x1="1704.6" y1="1148" x2="1704.6" y2="1209.5" stroke-width="1.9"/>
<line x1="1815" y1="1148" x2="1815" y2="1209.5" stroke-width="1.9"/>
<line x1="1704.6" y1="1190.6" x2="1879.5" y2="1190.6" stroke-width="1.9"/>
<line x1="1695.1" y1="1200.1" x2="1714.1" y2="1181.1" stroke-width="2"/>
<line x1="1805.5" y1="1200.1" x2="1824.5" y2="1181.1" stroke-width="2"/>
<text transform="translate(1832.7 1186.1) scale(0.9424 1)" font-size="45.8">80</text>
<path d="M1642.8,1375.8 L1718.5,1375.8 L1747.4,1341.6" stroke-width="1.2" stroke-linejoin="round"/>
<text transform="translate(1601.46 1365) scale(0.8418 1)" font-size="45.8">L 1500</text>
</g>
<text transform="translate(109.65 157.8) scale(0.8887 1)" font-size="45.8">SC9022</text>
</svg>
</body>
</html>
